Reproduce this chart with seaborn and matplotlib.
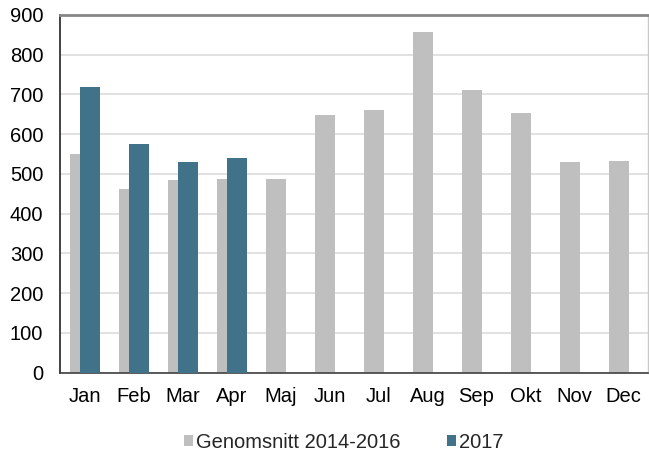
import matplotlib
matplotlib.use("Agg")
import matplotlib.pyplot as plt
from matplotlib.patches import Patch
from matplotlib.ticker import MultipleLocator, FixedLocator
import seaborn as sns
import pandas as pd
import numpy as np

months = ["Jan", "Feb", "Mar", "Apr", "Maj", "Jun", "Jul", "Aug", "Sep", "Okt", "Nov", "Dec"]
avg_2014_2016 = [550, 462, 484, 487, 487, 647, 660, 856, 710, 654, 529, 532]
y2017 = [718, 575, 531, 540, np.nan, np.nan, np.nan, np.nan, np.nan, np.nan, np.nan, np.nan]
series_names = ["Genomsnitt 2014-2016", "2017"]
colors = ["#BFBFBF", "#40728A"]

sns.set_theme(style="white")
plt.rcParams["font.family"] = ["Liberation Sans", "DejaVu Sans"]

df_avg = pd.DataFrame({"month": months, "value": avg_2014_2016})
df_17 = pd.DataFrame({"month": months, "value": y2017}).dropna()

fig = plt.figure(figsize=(6.49, 4.57), dpi=100)
ax = fig.add_axes([60 / 649, (457 - 372.5) / 457, 588 / 649, (372.5 - 15) / 457])

bar_w = 0.41
sns.barplot(data=df_avg, x="month", y="value", order=months, color=colors[0],
            width=bar_w, ax=ax, saturation=1, errorbar=None, zorder=2)
n0 = len(ax.patches)
sns.barplot(data=df_17, x="month", y="value", order=months, color=colors[1],
            width=bar_w, ax=ax, saturation=1, errorbar=None, zorder=3)
for i, p in enumerate(ax.patches):
    shift = -0.095 if i < n0 else 0.11
    p.set_x(p.get_x() + shift)
    p.set_linewidth(0)

ax.set_xlim(-0.5, 11.5)
ax.set_ylim(0, 900)
ax.yaxis.set_major_locator(MultipleLocator(100))
ax.set_xlabel("")
ax.set_ylabel("")

ax.grid(axis="y", color="#D9D9D9", linewidth=1.1, zorder=0)
ax.set_axisbelow(True)

fs = 14.5
ax.xaxis.set_minor_locator(FixedLocator(np.arange(-0.5, 12, 1)))
ax.tick_params(axis="x", which="major", length=0, pad=10.5, labelsize=fs, labelcolor="black")
ax.tick_params(axis="x", which="minor", length=4, width=1, color="#404040", direction="out")
ax.tick_params(axis="y", which="major", length=4, width=1, color="#404040", direction="out",
               pad=8, labelsize=fs, labelcolor="black")

for side, col, lw in [("left", "#222222", 1.2), ("bottom", "#404040", 1.2),
                      ("top", "#878787", 2.0), ("right", "#C8C8C8", 1.0)]:
    ax.spines[side].set_visible(True)
    ax.spines[side].set_color(col)
    ax.spines[side].set_linewidth(lw)

handles = [Patch(facecolor=c, edgecolor="none") for c in colors]
fig.legend(handles, series_names, loc="center", bbox_to_anchor=(343.5 / 649, 1 - 442 / 457),
           ncol=2, frameon=False, fontsize=fs, handlelength=0.45, handleheight=0.45,
           handletextpad=0.15, columnspacing=2.3, borderpad=0, borderaxespad=0)

fig.savefig("out.png", dpi=100)
